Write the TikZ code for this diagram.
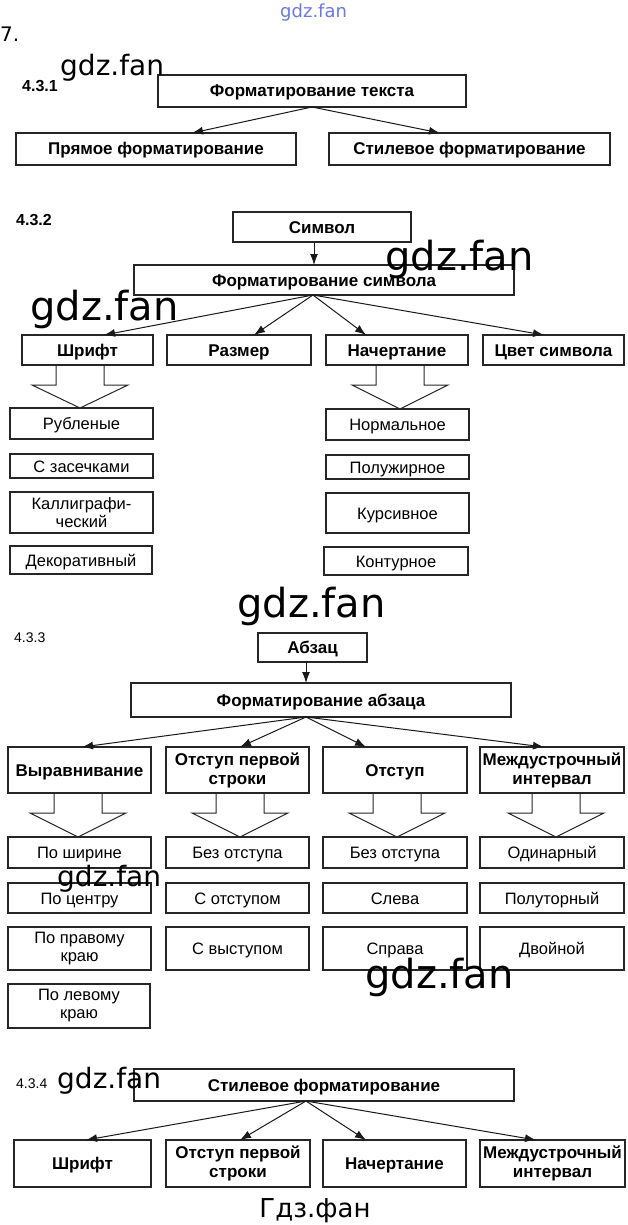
\documentclass[tikz,border=0pt]{standalone}
\usepackage{fontspec}
\setmainfont{Liberation Sans}
\newfontfamily\wmfont{DejaVu Sans}
\usetikzlibrary{arrows.meta}
\newcommand\harrow[3]{\draw[hol] (#1-24,#2) -- (#1-24,#2+20) -- (#1-48,#2+20) -- (#1,#3) -- (#1+48,#2+20) -- (#1+24,#2+20) -- (#1+24,#2);}
\begin{document}
\begin{tikzpicture}[x=1pt,y=-1pt,
  bx/.style={draw=black!85, line width=1.3pt, inner sep=0pt, outer sep=0pt, align=center,
    font=\fontsize{17}{19}\selectfont\bfseries},
  sb/.style={bx, font=\fontsize{16.5}{18}\selectfont},
  one/.style={text height=12pt, text depth=0pt},
  arr/.style={-{Latex[length=11pt,width=8pt]}, line width=1pt, draw=black!90},
  hol/.style={line width=1pt, draw=black!85},
  lab/.style={anchor=base west, inner sep=0pt},
  wm/.style={anchor=base west, inner sep=0pt, font=\wmfont\fontsize{40}{40}\selectfont},
  wms/.style={wm, font=\wmfont\fontsize{28}{28}\selectfont}]
\fill[white] (0,0) rectangle (627,1225);
\useasboundingbox (0,0) rectangle (627,1225);

% ---- 4.3.1
\node[lab, font=\fontsize{16}{16}\selectfont\bfseries] (l1) at (22,92) {4.3.1};
\node[bx, one, minimum width=308pt, minimum height=32pt] (ft) at (312,91) {Форматирование текста};
\node[bx, one, minimum width=280pt, minimum height=32pt] (pf) at (156,149) {Прямое форматирование};
\node[bx, one, minimum width=281pt, minimum height=32pt] (sf) at (469.5,149) {Стилевое форматирование};
\draw[arr] (ft.south) -- ([xshift=36pt]pf.north);
\draw[arr] (ft.south) -- ([xshift=-29.5pt]sf.north);

% ---- 4.3.2
\node[lab, font=\fontsize{16}{16}\selectfont\bfseries] (l2) at (16,225) {4.3.2};
\node[bx, one, minimum width=178pt, minimum height=30pt] (sym) at (322,227) {Символ};
\node[bx, one, minimum width=380pt, minimum height=30pt] (fs) at (324,280) {Форматирование символа};
\draw[arr] ([xshift=-8pt]sym.south) -- ([xshift=-10pt]fs.north);
\node[bx, one, minimum width=131pt, minimum height=30pt] (shr) at (87.5,350) {Шрифт};
\node[bx, one, minimum width=144pt, minimum height=30pt] (raz) at (239,350) {Размер};
\node[bx, one, minimum width=142pt, minimum height=30pt] (nach) at (397,350) {Начертание};
\node[bx, one, minimum width=141pt, minimum height=30pt] (cvet) at (553.5,350) {Цвет символа};
\coordinate (fsb) at ([xshift=-11pt]fs.south);
\draw[arr] (fsb) -- ([xshift=16.5pt]shr.north);
\draw[arr] (fsb) -- ([xshift=15pt]raz.north);
\draw[arr] (fsb) -- ([xshift=-31pt]nach.north);
\draw[arr] (fsb) -- ([xshift=-9.5pt]cvet.north);
\harrow{80}{365}{408}
\harrow{400}{365}{409}
\node[sb, one, minimum width=143pt, minimum height=31pt] (rub) at (81.5,423.5) {Рубленые};
\node[sb, one, minimum width=143pt, minimum height=24pt] (zas) at (81.5,466) {С засечками};
\node[sb, minimum width=143pt, minimum height=41pt] (kal) at (81.5,512.5) {Каллиграфи-\\ческий};
\node[sb, one, minimum width=142pt, minimum height=28pt] (dek) at (81,560) {Декоративный};
\node[sb, one, minimum width=143pt, minimum height=31pt] (norm) at (397.5,424.5) {Нормальное};
\node[sb, one, minimum width=143pt, minimum height=24pt] (pzh) at (397.5,467) {Полужирное};
\node[sb, one, minimum width=143pt, minimum height=40pt] (kurs) at (397.5,513) {Курсивное};
\node[sb, one, minimum width=144pt, minimum height=28pt] (kont) at (396,561) {Контурное};

% ---- 4.3.3
\node[lab, font=\fontsize{14}{14}\selectfont] (l3) at (14,642) {4.3.3};
\node[bx, one, minimum width=109pt, minimum height=29pt] (abz) at (312.5,647.5) {Абзац};
\node[bx, one, minimum width=380pt, minimum height=34pt] (fa) at (321,700) {Форматирование абзаца};
\draw[arr] ([xshift=-6.5pt]abz.south) -- ([xshift=-15pt]fa.north);
\node[bx, one, minimum width=143pt, minimum height=46pt] (vyr) at (79.5,770) {Выравнивание};
\node[bx, minimum width=143pt, minimum height=46pt] (otp) at (237.5,770) {Отступ первой\\строки};
\node[bx, one, minimum width=144pt, minimum height=46pt] (ots) at (395,770) {Отступ};
\node[bx, minimum width=144pt, minimum height=46pt] (mez) at (552,770) {Междустрочный\\интервал};
\coordinate (fab) at ([xshift=-15pt]fa.south);
\draw[arr] (fab) -- ([xshift=2.5pt]vyr.north);
\draw[arr] (fab) -- ([xshift=2.5pt]otp.north);
\draw[arr] (fab) -- ([xshift=-29pt]ots.north);
\draw[arr] (fab) -- ([xshift=-8pt]mez.north);
\harrow{78}{793}{837}
\harrow{240}{793}{837}
\harrow{397}{793}{837}
\harrow{556}{793}{837}
\node[sb, one, minimum width=143pt, minimum height=31pt] (a1) at (79.5,852.5) {По ширине};
\node[sb, one, minimum width=143pt, minimum height=30pt] (a2) at (79.5,898) {По центру};
\node[sb, minimum width=143pt, minimum height=43pt] (a3) at (79.5,948.5) {По правому\\краю};
\node[sb, minimum width=142pt, minimum height=44pt] (a4) at (79,1006) {По левому\\краю};
\node[sb, one, minimum width=143pt, minimum height=31pt] (b1) at (237.5,852.5) {Без отступа};
\node[sb, one, minimum width=143pt, minimum height=30pt] (b2) at (237.5,898) {С отступом};
\node[sb, one, minimum width=143pt, minimum height=43pt] (b3) at (237.5,948.5) {С выступом};
\node[sb, one, minimum width=144pt, minimum height=31pt] (c1) at (395,852.5) {Без отступа};
\node[sb, one, minimum width=144pt, minimum height=30pt] (c2) at (395,898) {Слева};
\node[sb, one, minimum width=144pt, minimum height=43pt] (c3) at (395,948.5) {Справа};
\node[sb, one, minimum width=144pt, minimum height=31pt] (d1) at (552,852.5) {Одинарный};
\node[sb, one, minimum width=144pt, minimum height=30pt] (d2) at (552,898) {Полуторный};
\node[sb, one, minimum width=144pt, minimum height=43pt] (d3) at (552,948.5) {Двойной};

% ---- 4.3.4
\node[lab, font=\fontsize{14}{14}\selectfont] (l4) at (16,1088) {4.3.4};
\node[bx, one, minimum width=380pt, minimum height=32pt] (sf2) at (324,1085) {Стилевое форматирование};
\node[bx, one, minimum width=137pt, minimum height=47pt] (shr2) at (82.5,1163.5) {Шрифт};
\node[bx, minimum width=144pt, minimum height=47pt] (otp2) at (238,1163.5) {Отступ первой\\строки};
\node[bx, one, minimum width=143pt, minimum height=47pt] (nach2) at (394.5,1163.5) {Начертание};
\node[bx, minimum width=145pt, minimum height=47pt] (mez2) at (552.5,1163.5) {Междустрочный\\интервал};
\coordinate (sfb) at ([xshift=-18pt]sf2.south);
\draw[arr] (sfb) -- ([xshift=3.5pt]shr2.north);
\draw[arr] (sfb) -- ([xshift=2pt]otp2.north);
\draw[arr] (sfb) -- ([xshift=-28.5pt]nach2.north);
\draw[arr] (sfb) -- ([xshift=-16.5pt]mez2.north);

% ---- watermarks and page texts
\node[anchor=base west, inner sep=0pt, text={rgb,255:red,110;green,120;blue,225},
  font=\wmfont\fontsize{18}{18}\selectfont] (w0) at (280,18) {gdz.fan};
\node[anchor=base west, inner sep=0pt, font=\wmfont\fontsize{20}{20}\selectfont] (num) at (0,42) {7.};
\node[wms] (w1) at (60,76) {gdz.fan};
\node[wm] (w2) at (385,270) {gdz.fan};
\node[wm] (w3) at (30,320) {gdz.fan};
\node[wm] (w4) at (237,617) {gdz.fan};
\node[wms] (w5) at (57,886) {gdz.fan};
\node[wm] (w6) at (365,988) {gdz.fan};
\node[wms] (w7) at (57,1088) {gdz.fan};
\node[anchor=base, inner sep=0pt, font=\wmfont\fontsize{26}{26}\selectfont] (w8) at (315,1217) {Гдз.фан};
\end{tikzpicture}
\end{document}
